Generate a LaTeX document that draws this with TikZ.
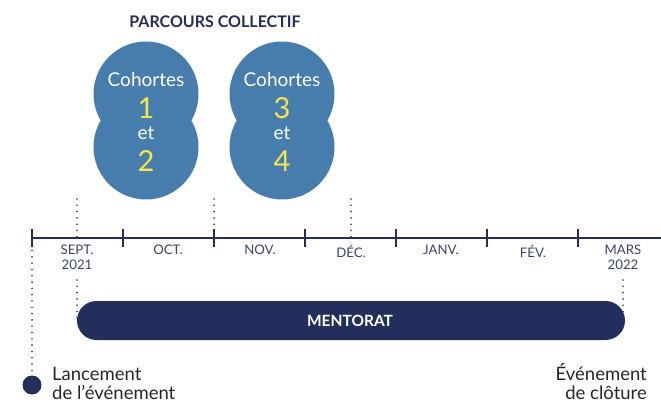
\documentclass[tikz,border=0pt]{standalone}
\usepackage{fontspec}
\setmainfont{Lato}
\definecolor{navy}{HTML}{232E5C}
\definecolor{bubble}{HTML}{477DAD}
\definecolor{yel}{HTML}{F7E54B}
\begin{document}
\begin{tikzpicture}[x=1pt,y=-1pt,
  month/.style={font=\fontsize{13.2}{15}\selectfont, text=navy!90, align=center, anchor=north, inner sep=0pt},
  dotline/.style={navy, line width=1.8pt, line cap=round, dash pattern=on 0pt off 6.3pt},
  coh/.style={text=white, font=\fontsize{19}{20}\selectfont, inner sep=0pt},
  num/.style={text=yel, font=\fontsize{29}{30}\selectfont, inner sep=0pt},
  evt/.style={text=black!85, font=\fontsize{18.5}{19}\selectfont, inner sep=0pt},
]
\useasboundingbox (0,0) rectangle (661,403);
\clip (0,0) rectangle (661,403);
% title
\node[font=\bfseries\fontsize{16}{17}\selectfont, text=navy] (title) at (215,22) {PARCOURS COLLECTIF};
% bubbles
\foreach \cx in {146,282}{
  \fill[bubble] (\cx,94) circle (52.5);
  \fill[bubble] (\cx,147) circle (52.5);
}
\node[coh] (c1) at (146,80) {Cohortes};
\node[num] (n1) at (146,108) {1};
\node[coh] (e1) at (146,133) {et};
\node[num] (n2) at (146,161) {2};
\node[coh] (c3) at (282,80) {Cohortes};
\node[num] (n3) at (282,108) {3};
\node[coh] (e3) at (282,133) {et};
\node[num] (n4) at (282,161) {4};
% axis
\coordinate (a0) at (32,238);
\coordinate (aend) at (661,238);
\draw[navy, line width=2pt] (a0) -- (aend);
\foreach \x in {32,123,214,305,396,487,578}{
  \draw[navy, line width=2pt] (\x,229) -- (\x,247);
}
% months
\node[month] (sept) at (77,245) {SEPT.\\2021};
\node[month] (oct) at (168,245) {OCT.};
\node[month] (nov) at (260,245) {NOV.};
\node[month] (dec) at (351,245) {DÉC.};
\node[month] (janv) at (441,245) {JANV.};
\node[month] (fev) at (533,245) {FÉV.};
\node[month] (mars) at (623,245) {MARS\\2022};
% dotted markers above axis
\coordinate (d1t) at (77,199); \coordinate (d1b) at (77,238);
\coordinate (d2t) at (214,199); \coordinate (d2b) at (214,238);
\coordinate (d3t) at (351,199); \coordinate (d3b) at (351,238);
\draw[dotline] (d1t) -- (d1b);
\draw[dotline] (d2t) -- (d2b);
\draw[dotline] (d3t) -- (d3b);
% mentorat bar
\node[fill=navy, rounded corners=19.5pt, minimum width=548pt, minimum height=39pt, inner sep=0pt] (bar) at (351,320.5) {};
\node[text=white, font=\bfseries\fontsize{15.5}{16}\selectfont] (ment) at (350,320.5) {MENTORAT};
\coordinate (s1) at (77,280); \coordinate (s1b) at (77,319);
\draw[dotline] (s1) -- (s1b);
\coordinate (m1) at (623,280); \coordinate (m1b) at (623,319);
\draw[dotline] (m1) -- (m1b);
% launch
\node[circle, fill=navy, minimum size=19pt, inner sep=0pt] (ldot) at (32,385) {};
\draw[dotline] (a0) -- (ldot.north);
\node[evt, anchor=base west, align=left] (ltext) at (52,399.5) {Lancement\\de l’événement};
% closing
\node[circle, fill=navy, minimum size=19pt, inner sep=0pt] (cdot) at (671,385) {};
\node[evt, anchor=base east, align=right] (ctext) at (647,399.5) {Événement\\de clôture};
\end{tikzpicture}
\end{document}
